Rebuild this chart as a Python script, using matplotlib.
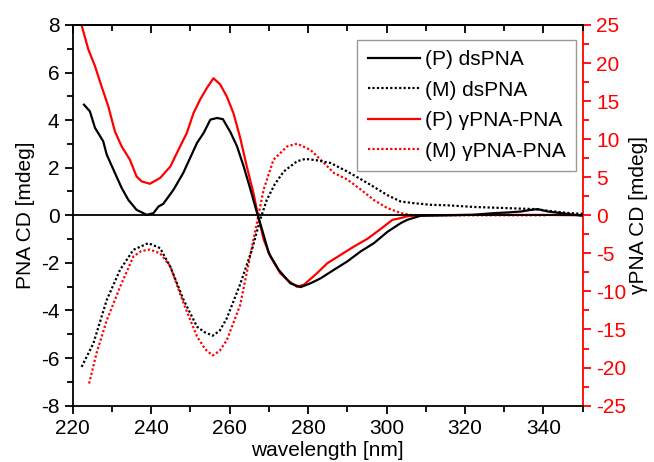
import matplotlib
matplotlib.use("Agg")
import matplotlib.pyplot as plt
from matplotlib.ticker import MultipleLocator

plt.rcParams['font.family'] = ['Liberation Sans', 'DejaVu Sans']
plt.rcParams['axes.unicode_minus'] = False

# (P) dsPNA  (left axis)
p_ds_x = [222.9, 224.4, 225.7, 227.8, 228.7, 230.4, 232.5, 234.2, 236.3, 238.9, 240.6, 241.9, 243.1,
          245.7, 248.2, 251.7, 253.4, 255.1, 256.8, 258.3, 260.2, 261.9, 263.6, 265.3, 267.0, 268.3,
          270.0, 272.5, 275.5, 278.1, 280.6, 283.2, 286.6, 290.0, 293.4, 296.8, 300.2, 303.6, 305.3,
          308.7, 315.0, 322.0, 327.4, 331.0, 334.3, 336.5, 338.5, 341.1, 344.5, 347.0, 350.0]
p_ds_y = [4.65, 4.37, 3.68, 3.11, 2.55, 1.92, 1.15, 0.65, 0.23, 0.02, 0.09, 0.37, 0.48,
          1.07, 1.78, 3.04, 3.46, 4.02, 4.09, 4.04, 3.50, 2.90, 2.05, 1.10, 0.10, -0.61,
          -1.59, -2.29, -2.86, -3.02, -2.86, -2.65, -2.29, -1.94, -1.52, -1.17, -0.70, -0.33, -0.19,
          -0.02, 0.0, 0.02, 0.09, 0.12, 0.16, 0.22, 0.26, 0.16, 0.09, 0.04, -0.02]

# (M) dsPNA  (left axis)
m_ds_x = [222.3, 225.3, 228.7, 232.1, 235.5, 239.3, 242.3, 244.9, 248.3, 251.7, 253.5, 255.7, 257.5,
          259.3, 262.7, 265.7, 267.8, 269.5, 271.5, 273.8, 277.2, 279.3, 282.3, 285.7, 290.0, 295.1,
          300.2, 303.6, 307.0, 311.3, 315.5, 322.3, 330.9, 337.6, 342.8, 346.0, 350.0]
m_ds_y = [-6.37, -5.38, -3.56, -2.29, -1.45, -1.17, -1.38, -2.16, -3.56, -4.68, -4.90, -5.06, -4.85,
          -4.33, -2.90, -1.45, -0.19, 0.65, 1.30, 1.84, 2.27, 2.37, 2.31, 2.20, 1.84, 1.36,
          0.85, 0.58, 0.51, 0.44, 0.42, 0.35, 0.30, 0.26, 0.16, 0.10, 0.06]

# (P) gammaPNA-PNA  (right axis)
p_g_x = [222.0, 224.0, 225.7, 227.4, 229.1, 230.8, 232.5, 234.6, 236.3, 237.6, 239.7, 242.3, 244.9,
         247.4, 249.1, 250.8, 252.5, 254.2, 255.9, 257.6, 259.3, 261.0, 262.7, 264.4, 266.1, 267.2,
         268.7, 270.4, 272.9, 275.0, 277.2, 279.0, 282.3, 284.9, 288.3, 291.7, 295.1, 298.5, 301.5,
         303.6, 305.5, 310.0, 320.0, 330.0, 340.0, 350.0]
p_g_y = [25.5, 21.8, 19.6, 16.9, 14.3, 11.0, 9.05, 7.3, 5.1, 4.45, 4.14, 4.9, 6.4,
         9.05, 10.8, 13.4, 15.2, 16.7, 18.0, 17.2, 15.6, 13.4, 10.2, 6.4, 2.9, 0.1,
         -3.2, -5.4, -7.6, -8.6, -9.4, -9.1, -7.6, -6.3, -5.2, -4.1, -3.1, -1.8, -0.6,
         -0.37, -0.1, 0.0, 0.05, 0.05, 0.05, 0.0]

# (M) gammaPNA-PNA  (right axis)
m_g_x = [224.2, 226.1, 228.7, 232.1, 235.5, 237.5, 239.7, 242.3, 244.9, 248.3, 251.7, 253.8, 255.7,
         257.5, 259.3, 262.7, 266.1, 268.7, 271.2, 274.7, 277.2, 280.6, 284.0, 286.6, 290.0, 293.4,
         296.8, 300.2, 303.6, 306.0, 310.0, 320.0, 330.0, 341.0]
m_g_y = [-22.1, -18.1, -13.8, -9.4, -5.4, -4.7, -4.5, -5.0, -6.7, -11.6, -15.9, -17.6, -18.4,
         -17.8, -16.4, -11.8, -3.2, 3.4, 7.3, 9.05, 9.4, 8.6, 6.9, 5.55, 4.7, 3.4,
         2.0, 0.95, 0.3, 0.05, 0.0, 0.0, 0.0, 0.0]

x_ticks = [220, 240, 260, 280, 300, 320, 340]

fig = plt.figure(figsize=(6.54, 4.62), dpi=100)
ax = fig.add_axes([0.111, 0.122, 0.780, 0.824])
ax2 = ax.twinx()

ax.axhline(0, color='black', lw=1.3, zorder=1)
l1, = ax.plot(p_ds_x, p_ds_y, color='black', lw=1.6, ls='-', label='(P) dsPNA')
l2, = ax.plot(m_ds_x, m_ds_y, color='black', lw=1.6, ls=(0, (1, 1)), label='(M) dsPNA')
l3, = ax2.plot(p_g_x, p_g_y, color='red', lw=1.6, ls='-', label='(P) γPNA-PNA')
l4, = ax2.plot(m_g_x, m_g_y, color='red', lw=1.6, ls=(0, (1, 1)), label='(M) γPNA-PNA')

ax.set_xlim(220, 350)
ax.set_ylim(-8, 8)
ax2.set_ylim(-25, 25)

ax.set_xticks(x_ticks)
ax.xaxis.set_minor_locator(MultipleLocator(10))
ax.yaxis.set_major_locator(MultipleLocator(2))
ax.yaxis.set_minor_locator(MultipleLocator(1))
ax2.yaxis.set_major_locator(MultipleLocator(5))
ax2.yaxis.set_minor_locator(MultipleLocator(2.5))

fs = 15
ax.tick_params(axis='x', which='both', direction='out', top=False, labelsize=fs, width=1.3, color='black')
ax.tick_params(axis='x', which='major', length=6)
ax.tick_params(axis='x', which='minor', length=4)
ax.tick_params(axis='y', which='major', direction='out', length=6, width=1.3, labelsize=fs)
ax.tick_params(axis='y', which='minor', direction='out', length=4, width=1.3)
ax2.tick_params(axis='y', which='major', direction='out', length=6, width=1.3, labelsize=fs,
                colors='red')
ax2.tick_params(axis='y', which='minor', direction='out', length=4, width=1.3, colors='red')

# inward ticks on top edge
sec = ax.secondary_xaxis('top')
sec.set_xticks(x_ticks)
sec.xaxis.set_minor_locator(MultipleLocator(10))
sec.tick_params(axis='x', which='both', direction='in', labeltop=False, width=1.3)
sec.tick_params(axis='x', which='major', length=6)
sec.tick_params(axis='x', which='minor', length=4)
sec.spines['top'].set_linewidth(1.3)

for s in ['left', 'bottom', 'top']:
    ax.spines[s].set_linewidth(1.3)
for s in ['left', 'bottom', 'top']:
    ax2.spines[s].set_visible(False)
ax2.spines['right'].set_color('red')
ax2.spines['right'].set_linewidth(1.3)
ax.spines['right'].set_visible(False)

ax.set_xlabel('wavelength [nm]', fontsize=fs, labelpad=2)
ax.set_ylabel('PNA CD [mdeg]', fontsize=fs, labelpad=4)
ax2.set_ylabel('γPNA CD [mdeg]', fontsize=fs, labelpad=2, color='black')

leg = ax.legend(handles=[l1, l2, l3, l4], loc='upper right', bbox_to_anchor=(0.987, 0.961),
                fontsize=fs, frameon=True, fancybox=False, edgecolor='#808080',
                handlelength=2.5, handletextpad=0.25, labelspacing=0.55, borderpad=0.5,
                borderaxespad=0)
leg.get_frame().set_linewidth(1.0)
leg.set_zorder(5)
ax.set_zorder(ax2.get_zorder() + 1)
ax.patch.set_visible(False)

fig.savefig('out.png', dpi=100)
